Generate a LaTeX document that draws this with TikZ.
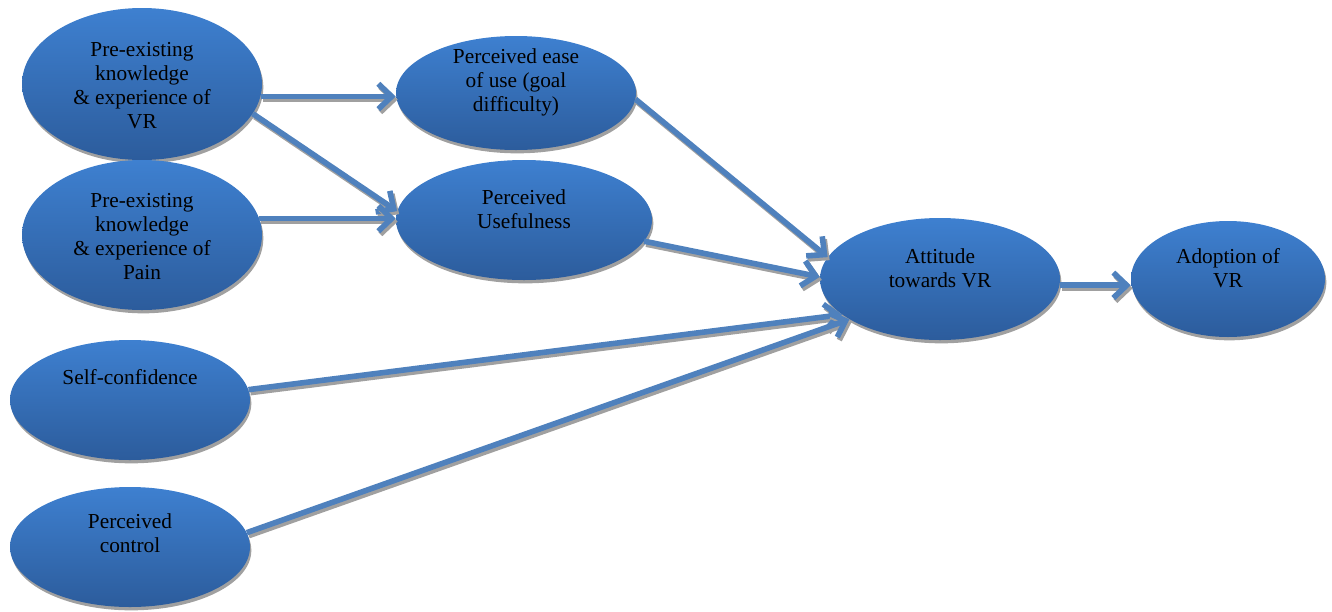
\documentclass[tikz,border=0pt]{standalone}
\usepackage{fontspec}
\setmainfont{Liberation Serif}
\usetikzlibrary{arrows.meta,shadows,shapes.geometric}
\definecolor{elltop}{RGB}{62,128,208}
\definecolor{ellbot}{RGB}{44,92,156}
\definecolor{arrowblue}{RGB}{79,129,189}
\definecolor{shadowgray}{RGB}{160,160,160}
\tikzset{
 ell/.style={ellipse, inner sep=0pt, top color=elltop, bottom color=ellbot, draw=none,
   drop shadow={shadow xshift=1pt, shadow yshift=-2.5pt, fill=shadowgray, opacity=1}},
 txt/.style={font=\fontspec{Liberation Serif}\fontsize{16pt}{18pt}\selectfont, align=center, text=black, inner sep=0pt},
 conn/.style={draw=arrowblue, line width=4.2pt, -{Straight Barb[length=10pt,width=19pt]}},
 connshadow/.style={conn, draw=shadowgray, transform canvas={shift={(2,3)}}},
}
\newcommand\conndraw[1]{\draw[connshadow] #1; \draw[conn] #1;}
\begin{document}
\begin{tikzpicture}[x=0.75pt,y=-0.75pt]
\useasboundingbox (0,0) rectangle (1332,611);
\node[ell, minimum width=180pt, minimum height=114pt,
  label={[txt,yshift=-1.5pt]center:{Pre-existing\\knowledge\\\& experience of\\VR}}] (e1) at (142,84) {};
\node[ell, minimum width=180pt, minimum height=112.5pt,
  label={[txt,yshift=-1pt]center:{Pre-existing\\knowledge\\\& experience of\\Pain}}] (e2) at (142,235) {};
\node[ell, minimum width=180pt, minimum height=85.5pt,
  label={[txt,yshift=8pt]center:{Perceived ease\\of use (goal\\difficulty)}}] (e3) at (516,93) {};
\node[ell, minimum width=192pt, minimum height=90pt,
  label={[txt,yshift=8pt]center:{Perceived\\Usefulness}}] (e4) at (524,220) {};
\node[ell, minimum width=180pt, minimum height=91.5pt,
  label={[txt,yshift=8pt]center:{Attitude\\towards VR}}] (e5) at (940,279) {};
\node[ell, minimum width=145.5pt, minimum height=87pt,
  label={[txt,yshift=8pt]center:{Adoption of\\VR}}] (e6) at (1228,279) {};
\node[ell, minimum width=180pt, minimum height=90pt,
  label={[txt,yshift=17pt]center:{Self-confidence}}] (e7) at (130,400) {};
\node[ell, minimum width=180pt, minimum height=90pt,
  label={[txt,yshift=10pt]center:{Perceived\\control}}] (e8) at (130,547) {};
\conndraw{(e1.354) -- (e1.354 -| e3.west)}
\conndraw{(e1.345) -- (e4.176)}
\conndraw{(e2.8) -- (e2.8 -| e4.west)}
\conndraw{(e3.357) -- (e5.169)}
\conndraw{(e4.350) -- (e5.179)}
\conndraw{(e7.5) -- (e5.200)}
\conndraw{(e8.7) -- (e5.204)}
\conndraw{(e5.357) -- (e5.357 -| e6.west)}
\end{tikzpicture}
\end{document}
